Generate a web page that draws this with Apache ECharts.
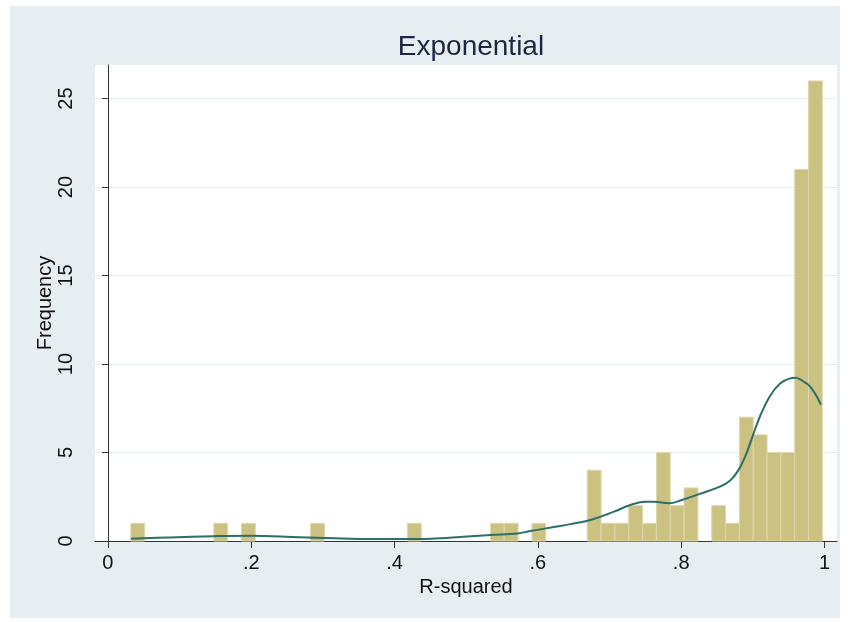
<!DOCTYPE html>
<html>
<head>
<meta charset="utf-8">
<script src="https://cdn.jsdelivr.net/npm/echarts@6/dist/echarts.min.js"></script>
<style>
  html, body { margin: 0; padding: 0; background: #ffffff; }
  #chart { width: 849px; height: 622px; }
</style>
</head>
<body>
<div id="chart"></div>
<script>
// Histogram of R-squared: 50 equal-width bins starting at the smallest value
const binStart = 0.032;
const binWidth = 0.0193;
const binCounts = [
  1, 0, 0, 0, 0, 0, 1, 0, 1, 0,
  0, 0, 0, 1, 0, 0, 0, 0, 0, 0,
  1, 0, 0, 0, 0, 0, 1, 1, 0, 1,
  0, 0, 0, 4, 1, 1, 2, 1, 5, 2,
  3, 0, 2, 1, 7, 6, 5, 5, 21, 26
];

// Kernel density overlay, scaled to frequency
const kdX = [0.032, 0.087, 0.147, 0.198, 0.268, 0.338, 0.408, 0.450, 0.491, 0.533,
             0.572, 0.589, 0.631, 0.673, 0.706, 0.729, 0.750, 0.762, 0.783, 0.801,
             0.826, 0.854, 0.868, 0.879, 0.889, 0.896, 0.903, 0.910, 0.924, 0.938,
             0.952, 0.959, 0.966, 0.980, 0.995];
const kdY = [0.13, 0.20, 0.27, 0.30, 0.21, 0.13, 0.11, 0.13, 0.22, 0.34,
             0.43, 0.56, 0.85, 1.19, 1.66, 2.03, 2.22, 2.22, 2.13, 2.32,
             2.66, 3.07, 3.40, 3.95, 4.75, 5.50, 6.30, 7.05, 8.20, 8.90,
             9.19, 9.22, 9.13, 8.72, 7.70];

const xTicks = [0, 0.2, 0.4, 0.6, 0.8, 1];
const yTicks = [0, 5, 10, 15, 20, 25];

const FONT = 'Liberation Sans, Arial, Helvetica, sans-serif';

const barData = [];
binCounts.forEach((c, i) => {
  if (c > 0) {
    const left = binStart + i * binWidth;
    barData.push([left, left + binWidth, c]);
  }
});

const chart = echarts.init(document.getElementById('chart'), null, { renderer: 'canvas' });

chart.setOption({
  animation: false,
  backgroundColor: '#ffffff',
  graphic: [{
    type: 'rect',
    z: -10,
    silent: true,
    shape: { x: 10, y: 6, width: 830, height: 612 },
    style: { fill: '#E7EEF1' }
  }],
  title: {
    text: 'Exponential',
    left: 466,
    top: 28,
    textAlign: 'center',
    textStyle: { fontFamily: FONT, fontSize: 28, fontWeight: 'normal', color: '#1C2747' }
  },
  grid: {
    left: 95, right: 12, top: 65, bottom: 81,
    show: true, backgroundColor: '#ffffff', borderWidth: 0
  },
  xAxis: {
    type: 'value',
    min: -0.018,
    max: 1.0174,
    name: 'R-squared',
    nameLocation: 'middle',
    nameGap: 36,
    nameMoveOverlap: false,
    nameTextStyle: { fontFamily: FONT, fontSize: 20, color: '#111' },
    axisLine: { show: true, onZero: false, lineStyle: { color: '#333', width: 1 } },
    axisTick: { show: true, length: 7, customValues: xTicks, lineStyle: { color: '#333', width: 1 } },
    axisLabel: {
      customValues: xTicks,
      fontFamily: FONT, fontSize: 20, color: '#111', margin: 12,
      formatter: v => (v === 0 || v === 1) ? String(v) : String(v).replace(/^0/, '')
    },
    splitLine: { show: false }
  },
  yAxis: {
    type: 'value',
    min: 0,
    max: 26.9,
    interval: 5,
    name: 'Frequency',
    nameLocation: 'middle',
    nameRotate: 90,
    nameGap: 40,
    nameMoveOverlap: false,
    nameTextStyle: { fontFamily: FONT, fontSize: 20, color: '#111' },
    axisLine: { show: true, lineStyle: { color: '#333', width: 1 } },
    axisTick: { show: true, length: 6, customValues: yTicks, lineStyle: { color: '#333', width: 1 } },
    axisLabel: {
      customValues: yTicks,
      rotate: 90,
      fontFamily: FONT, fontSize: 20, color: '#111', margin: 19
    },
    splitLine: { show: true, lineStyle: { color: '#E3ECEF', width: 1 } }
  },
  series: [
    {
      type: 'custom',
      z: 2,
      data: barData,
      encode: { x: [0, 1], y: 2 },
      renderItem: (params, api) => {
        const p0 = api.coord([api.value(0), api.value(2)]);
        const p1 = api.coord([api.value(1), 0]);
        return {
          type: 'rect',
          shape: { x: p0[0], y: p0[1], width: p1[0] - p0[0], height: p1[1] - p0[1] },
          style: { fill: '#CBC181', stroke: '#DED8AE', lineWidth: 1 }
        };
      }
    },
    {
      type: 'line',
      z: 3,
      data: kdX.map((x, i) => [x, kdY[i]]),
      showSymbol: false,
      smooth: 0.4,
      lineStyle: { color: '#2C6E68', width: 2 }
    }
  ]
});
</script>
</body>
</html>
